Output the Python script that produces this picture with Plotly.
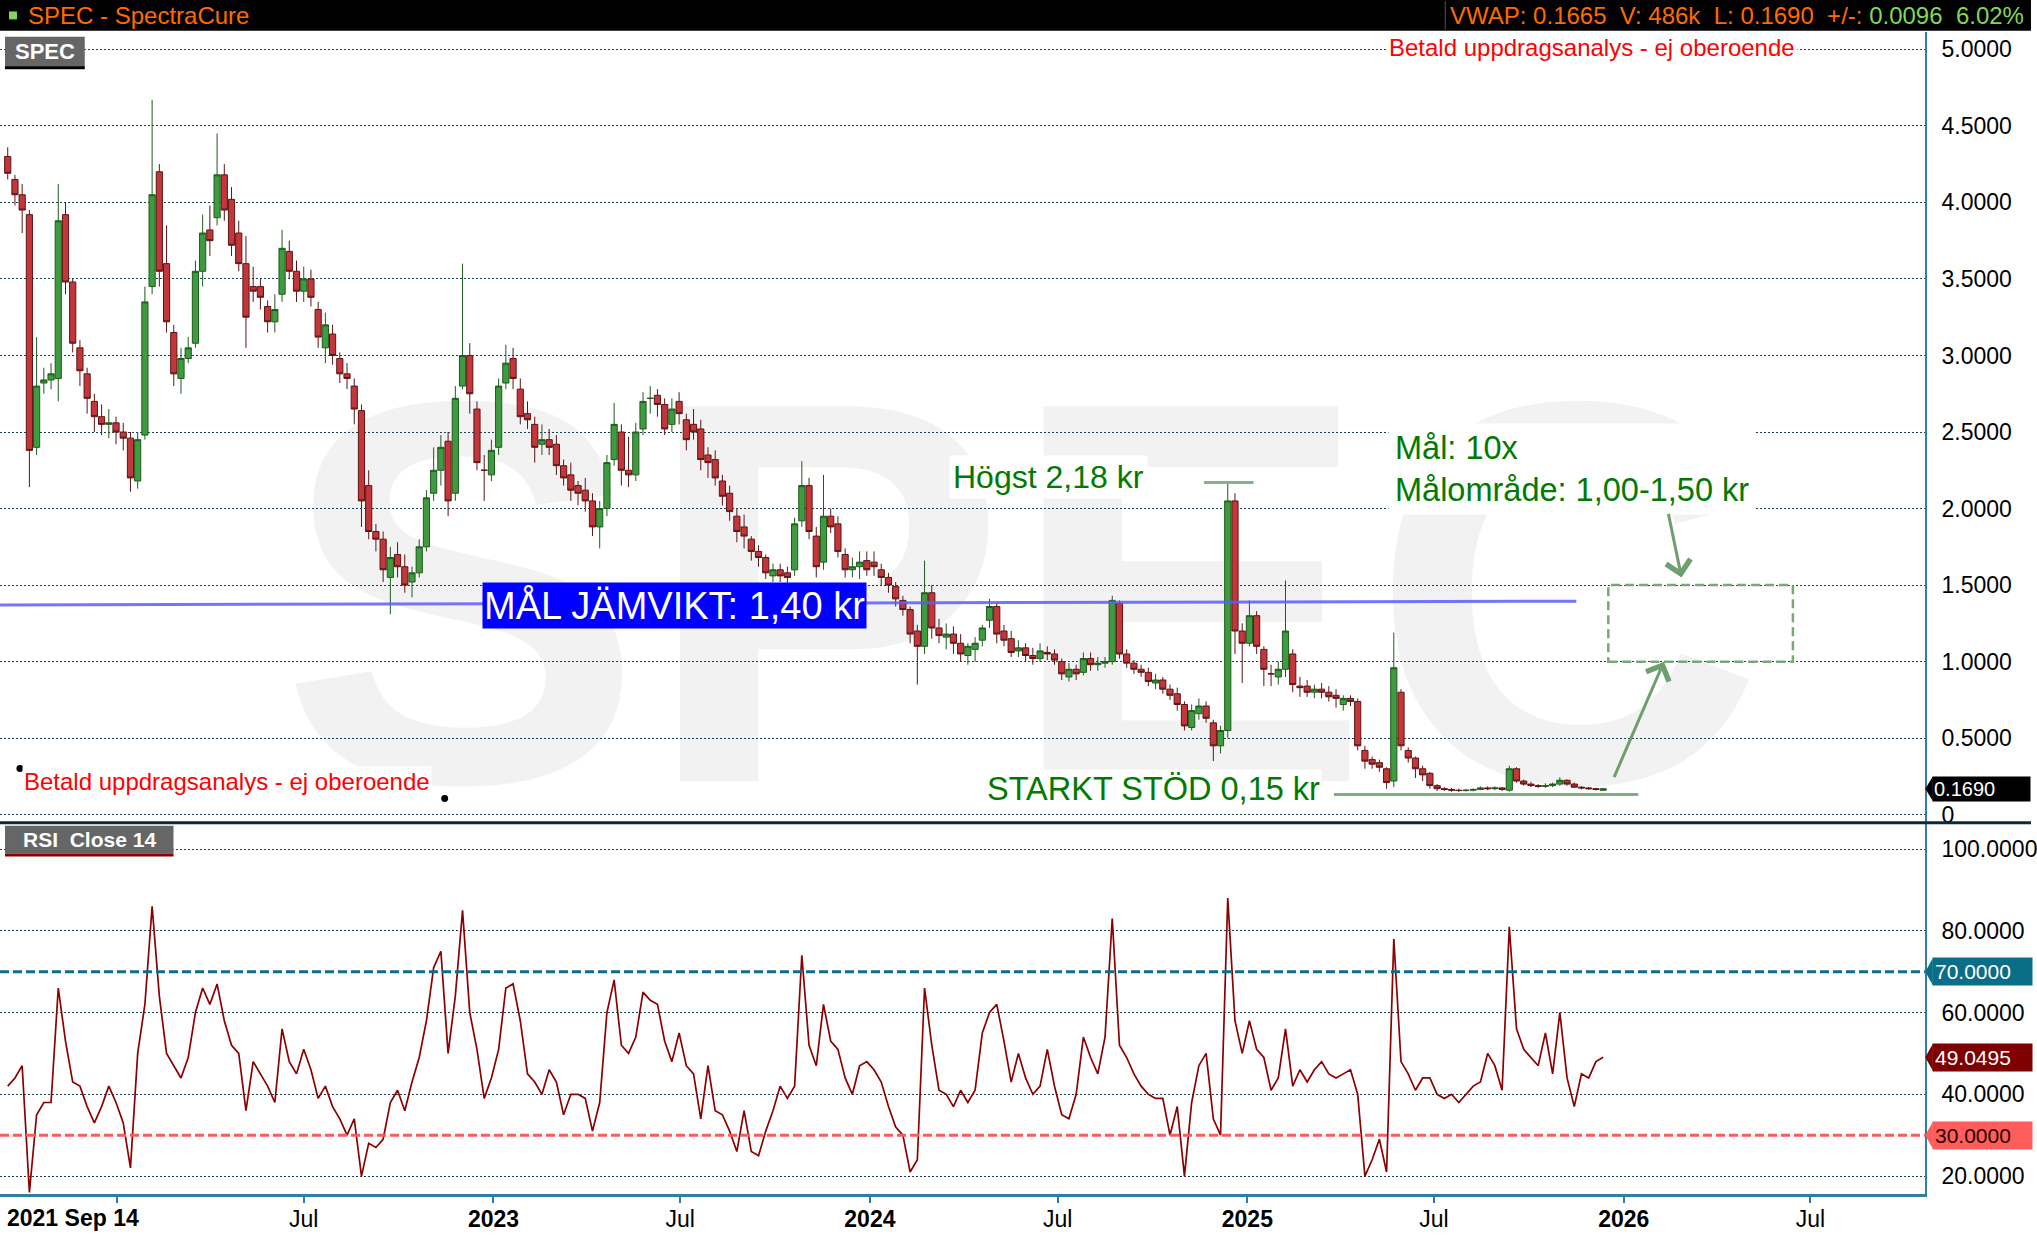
import plotly.graph_objects as go
import pandas as pd

W, H = 2037, 1238

# ---------------- data (weekly) ----------------
week_dates = pd.date_range("2021-09-17", periods=222, freq="7D")

price_open = [
    4.30, 4.15, 4.05, 3.92, 2.40, 2.82, 2.84, 2.85, 3.92, 3.48,
    3.05, 2.88, 2.70, 2.60, 2.55, 2.56, 2.50, 2.46, 2.18, 2.48,
    3.45, 4.20, 3.60, 3.15, 2.85, 2.98, 3.08, 3.55, 3.82, 3.90,
    4.18, 4.02, 3.80, 3.60, 3.45, 3.45, 3.32, 3.22, 3.40, 3.68,
    3.55, 3.42, 3.50, 3.30, 3.05, 3.14, 2.98, 2.88, 2.80, 2.64,
    2.15, 1.85, 1.80, 1.55, 1.70, 1.62, 1.52, 1.58, 1.75, 2.10,
    2.25, 2.44, 2.10, 2.80, 3.00, 2.65, 2.25, 2.22, 2.40, 2.82,
    2.98, 2.78, 2.62, 2.55, 2.42, 2.45, 2.42, 2.28, 2.22, 2.15,
    2.12, 2.05, 1.88, 2.00, 2.32, 2.50, 2.25, 2.22, 2.52, 2.72,
    2.74, 2.68, 2.55, 2.70, 2.58, 2.55, 2.52, 2.35, 2.32, 2.18,
    2.10, 1.95, 1.88, 1.80, 1.72, 1.68, 1.56, 1.60, 1.58, 1.60,
    1.92, 2.15, 1.82, 1.65, 1.95, 1.90, 1.70, 1.60, 1.62, 1.66,
    1.65, 1.60, 1.55, 1.49, 1.40, 1.34, 1.20, 1.10, 1.45, 1.22,
    1.16, 1.18, 1.12, 1.04, 1.08, 1.14, 1.27, 1.36, 1.20, 1.15,
    1.07, 1.09, 1.04, 1.02, 1.06, 1.05, 1.00, 0.90, 0.95, 0.93,
    1.02, 0.98, 0.99, 1.00, 1.38, 1.05, 0.99, 0.95, 0.93, 0.86,
    0.88, 0.82, 0.79, 0.72, 0.57, 0.66, 0.71, 0.60, 0.45, 0.55,
    2.05, 1.20, 1.12, 1.30, 1.08, 0.92, 0.90, 0.95, 1.05, 0.84,
    0.84, 0.80, 0.82, 0.80, 0.78, 0.72, 0.76, 0.74, 0.42, 0.36,
    0.34, 0.30, 0.22, 0.80, 0.42, 0.37, 0.30, 0.27, 0.19, 0.17,
    0.165, 0.16, 0.158, 0.16, 0.165, 0.175, 0.17, 0.175, 0.16, 0.30,
    0.22, 0.20, 0.19, 0.185, 0.19, 0.20, 0.225, 0.20, 0.18, 0.175,
    0.17, 0.16,
]
price_high = [
    4.36, 4.18, 4.12, 3.95, 3.12, 2.92, 2.95, 4.12, 4.00, 3.50,
    3.10, 2.92, 2.75, 2.68, 2.65, 2.60, 2.56, 2.50, 2.50, 3.45,
    4.67, 4.25, 3.85, 3.20, 3.05, 3.12, 3.62, 3.92, 3.98, 4.45,
    4.25, 4.10, 3.88, 3.78, 3.58, 3.50, 3.36, 3.40, 3.82, 3.75,
    3.62, 3.58, 3.56, 3.35, 3.28, 3.20, 3.02, 2.95, 2.85, 2.68,
    2.25, 1.90, 1.85, 1.75, 1.78, 1.70, 1.62, 1.80, 2.12, 2.40,
    2.48, 2.50, 2.80, 3.60, 3.08, 2.70, 2.35, 2.45, 2.85, 3.07,
    3.05, 2.85, 2.70, 2.60, 2.55, 2.52, 2.48, 2.32, 2.30, 2.18,
    2.20, 2.10, 2.05, 2.35, 2.69, 2.55, 2.47, 2.56, 2.76, 2.80,
    2.78, 2.72, 2.72, 2.76, 2.62, 2.65, 2.58, 2.40, 2.38, 2.22,
    2.15, 2.00, 1.96, 1.82, 1.76, 1.70, 1.64, 1.64, 1.62, 1.94,
    2.31, 2.20, 1.88, 2.22, 2.00, 1.95, 1.74, 1.68, 1.72, 1.72,
    1.72, 1.64, 1.58, 1.52, 1.43, 1.36, 1.24, 1.66, 1.50, 1.28,
    1.25, 1.23, 1.18, 1.12, 1.16, 1.24, 1.41, 1.38, 1.24, 1.20,
    1.14, 1.12, 1.09, 1.12, 1.10, 1.08, 1.02, 0.99, 0.98, 1.06,
    1.06, 1.03, 1.03, 1.43, 1.40, 1.08, 1.01, 0.98, 0.96, 0.92,
    0.90, 0.85, 0.83, 0.74, 0.72, 0.76, 0.74, 0.62, 0.58, 2.17,
    2.10, 1.25, 1.40, 1.33, 1.10, 0.98, 1.00, 1.53, 1.08, 0.90,
    0.88, 0.85, 0.86, 0.84, 0.82, 0.78, 0.78, 0.76, 0.45, 0.38,
    0.36, 0.31, 1.19, 0.82, 0.44, 0.38, 0.32, 0.28, 0.20, 0.18,
    0.175, 0.17, 0.168, 0.172, 0.185, 0.185, 0.185, 0.18, 0.32, 0.31,
    0.23, 0.215, 0.20, 0.205, 0.21, 0.245, 0.23, 0.21, 0.185, 0.18,
    0.175, 0.175,
]
price_low = [
    4.15, 3.98, 3.80, 2.14, 2.35, 2.75, 2.78, 2.70, 3.40, 3.02,
    2.80, 2.62, 2.50, 2.48, 2.46, 2.42, 2.38, 2.11, 2.13, 2.45,
    3.40, 3.45, 3.15, 2.80, 2.75, 2.95, 3.05, 3.45, 3.65, 3.85,
    3.88, 3.65, 3.55, 3.05, 3.35, 3.30, 3.15, 3.15, 3.35, 3.50,
    3.35, 3.35, 3.32, 3.05, 2.95, 2.94, 2.82, 2.78, 2.55, 1.88,
    1.80, 1.72, 1.52, 1.31, 1.55, 1.45, 1.42, 1.55, 1.72, 2.05,
    2.15, 1.95, 2.05, 2.78, 2.62, 2.25, 2.05, 2.18, 2.35, 2.78,
    2.78, 2.55, 2.52, 2.30, 2.35, 2.35, 2.22, 2.15, 2.05, 2.02,
    1.98, 1.82, 1.74, 1.95, 2.28, 2.15, 2.14, 2.18, 2.48, 2.62,
    2.60, 2.48, 2.50, 2.55, 2.38, 2.45, 2.25, 2.20, 2.15, 2.02,
    1.92, 1.78, 1.74, 1.66, 1.62, 1.54, 1.52, 1.52, 1.50, 1.56,
    1.88, 1.80, 1.55, 1.60, 1.84, 1.68, 1.55, 1.55, 1.54, 1.56,
    1.56, 1.50, 1.45, 1.36, 1.30, 1.12, 0.85, 1.05, 1.15, 1.12,
    1.08, 1.05, 1.00, 0.98, 1.00, 1.10, 1.22, 1.12, 1.10, 1.03,
    1.03, 1.00, 0.98, 1.00, 1.01, 0.98, 0.88, 0.87, 0.88, 0.91,
    0.94, 0.94, 0.96, 0.98, 1.02, 0.96, 0.92, 0.90, 0.84, 0.82,
    0.79, 0.75, 0.68, 0.55, 0.55, 0.62, 0.60, 0.35, 0.40, 0.50,
    1.05, 0.86, 1.10, 1.05, 0.84, 0.84, 0.85, 0.90, 0.80, 0.77,
    0.77, 0.76, 0.76, 0.74, 0.70, 0.68, 0.71, 0.42, 0.30, 0.30,
    0.28, 0.17, 0.18, 0.42, 0.34, 0.24, 0.22, 0.17, 0.155, 0.155,
    0.15, 0.148, 0.15, 0.152, 0.16, 0.16, 0.16, 0.155, 0.15, 0.21,
    0.19, 0.18, 0.175, 0.175, 0.18, 0.19, 0.19, 0.175, 0.165, 0.162,
    0.158, 0.158,
]
price_close = [
    4.19, 4.05, 3.95, 2.38, 2.80, 2.84, 2.88, 3.88, 3.48, 3.08,
    2.90, 2.72, 2.60, 2.55, 2.56, 2.50, 2.46, 2.20, 2.45, 3.35,
    4.05, 3.55, 3.22, 2.88, 2.98, 3.05, 3.55, 3.80, 3.75, 4.18,
    3.95, 3.72, 3.60, 3.25, 3.42, 3.38, 3.22, 3.30, 3.70, 3.55,
    3.42, 3.50, 3.38, 3.12, 3.20, 3.00, 2.88, 2.85, 2.65, 2.05,
    1.85, 1.80, 1.60, 1.68, 1.62, 1.50, 1.58, 1.75, 2.07, 2.25,
    2.40, 2.05, 2.72, 3.00, 2.75, 2.30, 2.25, 2.38, 2.80, 2.95,
    2.85, 2.60, 2.58, 2.40, 2.45, 2.40, 2.28, 2.20, 2.12, 2.10,
    2.05, 1.88, 2.00, 2.30, 2.55, 2.25, 2.22, 2.50, 2.70, 2.72,
    2.68, 2.52, 2.65, 2.62, 2.45, 2.50, 2.32, 2.30, 2.20, 2.08,
    1.98, 1.85, 1.82, 1.72, 1.68, 1.58, 1.60, 1.56, 1.55, 1.90,
    2.15, 1.85, 1.62, 1.95, 1.88, 1.72, 1.60, 1.62, 1.65, 1.60,
    1.62, 1.55, 1.50, 1.41, 1.34, 1.18, 1.10, 1.45, 1.22, 1.17,
    1.18, 1.12, 1.05, 1.10, 1.12, 1.22, 1.36, 1.18, 1.14, 1.06,
    1.09, 1.04, 1.02, 1.07, 1.05, 1.01, 0.92, 0.95, 0.92, 1.02,
    0.98, 0.99, 1.00, 1.40, 1.05, 0.99, 0.95, 0.93, 0.87, 0.88,
    0.82, 0.78, 0.72, 0.58, 0.68, 0.71, 0.63, 0.45, 0.55, 2.05,
    1.20, 1.12, 1.30, 1.10, 0.95, 0.92, 0.95, 1.20, 0.85, 0.83,
    0.80, 0.82, 0.80, 0.77, 0.76, 0.76, 0.74, 0.45, 0.35, 0.33,
    0.31, 0.21, 0.96, 0.45, 0.37, 0.30, 0.26, 0.19, 0.17, 0.165,
    0.16, 0.158, 0.16, 0.165, 0.175, 0.17, 0.175, 0.165, 0.30, 0.22,
    0.20, 0.19, 0.185, 0.19, 0.20, 0.225, 0.20, 0.18, 0.175, 0.17,
    0.165, 0.169,
]
rsi_14 = [
    42, 44, 47, 16, 35, 38, 38, 66, 53, 43,
    42, 37, 33, 37, 42, 38, 33, 22, 50, 62,
    86, 64, 50, 47, 44, 49, 60, 66, 62, 67,
    58, 52, 50, 36, 48, 45, 42, 38, 56, 48,
    45, 51, 46, 39, 42, 37, 34, 30, 34, 20,
    28, 27, 29, 38, 41, 36, 43, 49, 58, 71,
    75, 50, 64, 85, 60, 51, 39, 44, 51, 66,
    67, 58, 45, 43, 40, 46, 43, 35, 40, 40,
    39, 31, 38, 60, 68, 52, 50, 54, 65, 63,
    62, 53, 48, 55, 47, 45, 34, 47, 36, 35,
    31, 26, 36, 26, 25, 31, 36, 42, 39, 42,
    74, 52, 47, 62, 53, 51, 44, 40, 47, 48,
    46, 43, 37, 32, 30, 21, 24, 66, 52, 41,
    40, 37, 41, 38, 41, 55, 60, 62, 53, 43,
    50, 44, 40, 42, 51, 42, 35, 34, 40, 54,
    49, 45, 54, 83, 52, 49, 45, 42, 40, 39,
    39, 30, 37, 20, 38, 47, 50, 34, 30, 88,
    58, 50, 58, 51, 49, 41, 44, 56, 42, 46,
    43, 46, 48, 45, 44, 45, 46, 40, 20, 24,
    29, 21, 78, 48, 45, 41, 44, 44, 40, 39,
    40, 38, 40, 42, 43, 50, 47, 41, 81, 56,
    51, 49, 47, 55, 45, 60, 44, 37, 45, 44,
    48, 49.05,
]
for arr in (price_open, price_high, price_low, price_close, rsi_14):
    assert len(arr) == len(week_dates), len(arr)

price_ticks = [0, 0.5, 1.0, 1.5, 2.0, 2.5, 3.0, 3.5, 4.0, 4.5, 5.0]
price_tick_text = ["0"] + [f"{v:.4f}" for v in price_ticks[1:]]
rsi_ticks = [20, 40, 60, 80, 100]
rsi_tick_text = [f"{v:.4f}" for v in rsi_ticks]
x_tick_dates = ["2022-01-01", "2022-07-01", "2023-01-01", "2023-07-01", "2024-01-01",
                "2024-07-01", "2025-01-01", "2025-07-01", "2026-01-01", "2026-07-01"]
x_tick_text = ["", "Jul", "<b>2023</b>", "Jul", "<b>2024</b>", "Jul", "<b>2025</b>",
               "Jul", "<b>2026</b>", "Jul"]

last_price = 0.1690
last_rsi = 49.0495
target_equilibrium = (1.37, 1.395)      # blue line level (start, end)
high_level = 2.17                        # "Högst" marker
support_level = 0.132                    # STARKT STÖD line
target_zone = (1.0, 1.5)                 # Målområde box

X_START, X_END = "2021-09-09 12:00", "2026-10-20"

# ---------------- helpers (pixel -> paper) ----------------
def pxx(x):
    return x / W


def pyy(y):
    return 1 - y / H


PLOT_R = 1930.6 / W
FONT = "Liberation Sans, Arial, sans-serif"
AXIS_BLUE = "#2f7fa0"
GRID = "#1b4252"
GREEN_TXT = "#007a00"
SOFT_GREEN = "#6f9f6f"

fig = go.Figure()

fig.add_trace(go.Candlestick(
    x=week_dates, open=price_open, high=price_high, low=price_low, close=price_close,
    increasing=dict(line=dict(color="#1f5a1f", width=1), fillcolor="#3f9b3f"),
    decreasing=dict(line=dict(color="#5e1414", width=1), fillcolor="#c1373b"),
    whiskerwidth=0, xaxis="x", yaxis="y", showlegend=False, hoverinfo="skip",
))
fig.add_trace(go.Scatter(
    x=week_dates, y=rsi_14, mode="lines", line=dict(color="#8b0000", width=1.7),
    xaxis="x2", yaxis="y2", showlegend=False, hoverinfo="skip",
))

shapes = []
# header bar
shapes.append(dict(type="rect", xref="paper", yref="paper", x0=0, x1=1, y0=pyy(31), y1=1,
                   fillcolor="black", line=dict(width=0), layer="above"))
shapes.append(dict(type="rect", xref="paper", yref="paper", x0=pxx(9), x1=pxx(17),
                   y0=pyy(19.5), y1=pyy(11.5), fillcolor="#7ed957", line=dict(width=0), layer="above"))
shapes.append(dict(type="line", xref="paper", yref="paper", x0=pxx(1449.5), x1=pxx(1449.5),
                   y0=pyy(30), y1=pyy(1), line=dict(color="#555555", width=1), layer="above"))
# watermark
shapes.append(dict(type="rect", xref="paper", yref="paper", x0=pxx(305), x1=pxx(1745),
                   y0=pyy(750), y1=pyy(335), line=dict(width=0), fillcolor="rgba(0,0,0,0)",
                   layer="below",
                   label=dict(text="SPEC", textposition="middle center",
                              font=dict(size=545, color="#f2f2f2", family=FONT, weight="bold"))))
# panel separator
shapes.append(dict(type="line", xref="paper", yref="paper", x0=0, x1=1, y0=pyy(826), y1=pyy(826),
                   line=dict(color="#0b2a3c", width=3), layer="above"))
# equilibrium line
shapes.append(dict(type="line", xref="x", yref="y", x0=X_START, x1="2025-11-16",
                   y0=target_equilibrium[0], y1=target_equilibrium[1],
                   line=dict(color="#5c5cff", width=3), opacity=0.85, layer="above"))
# high marker
shapes.append(dict(type="line", xref="x", yref="y", x0="2024-11-20", x1="2025-01-07",
                   y0=high_level, y1=high_level, line=dict(color="#86b386", width=3), layer="above"))
# support line
shapes.append(dict(type="line", xref="x", yref="y", x0="2025-03-26", x1="2026-01-15",
                   y0=support_level, y1=support_level, line=dict(color="#7fae7f", width=3), layer="above"))
# target zone
shapes.append(dict(type="rect", xref="x", yref="y", x0="2025-12-17", x1="2026-06-14",
                   y0=target_zone[0], y1=target_zone[1],
                   line=dict(color="#78a878", width=2.5, dash="9px,5px"), layer="above"))
# RSI 70 / 30 lines
shapes.append(dict(type="line", xref="x2 domain", yref="y2", x0=0, x1=1, y0=70, y1=70,
                   line=dict(color="#0a6f8a", width=3, dash="9px,4px"), layer="above"))
shapes.append(dict(type="line", xref="x2 domain", yref="y2", x0=0, x1=1, y0=30, y1=30,
                   line=dict(color="#ff5a5a", width=3, dash="9px,4px"), layer="above"))
# label boxes
shapes.append(dict(type="rect", xref="paper", yref="paper", x0=pxx(5), x1=pxx(85),
                   y0=pyy(67), y1=pyy(37), fillcolor="#666666", line=dict(width=0), layer="above"))
shapes.append(dict(type="line", xref="paper", yref="paper", x0=pxx(5), x1=pxx(85),
                   y0=pyy(68), y1=pyy(68), line=dict(color="black", width=3), layer="above"))
shapes.append(dict(type="rect", xref="paper", yref="paper", x0=pxx(5), x1=pxx(174),
                   y0=pyy(857), y1=pyy(829), fillcolor="#666666", line=dict(width=0), layer="above"))
shapes.append(dict(type="line", xref="paper", yref="paper", x0=pxx(5), x1=pxx(174),
                   y0=pyy(858.5), y1=pyy(858.5), line=dict(color="#8b0000", width=3), layer="above"))
# anchor dots of the bottom-left note
for cx, cy in ((20, 771.7), (446, 801.7)):
    shapes.append(dict(type="circle", xref="paper", yref="paper", x0=pxx(cx - 3.5), x1=pxx(cx + 3.5),
                       y0=pyy(cy + 3.5), y1=pyy(cy - 3.5), fillcolor="black", line=dict(width=0),
                       layer="above"))
# pointed tips of the value tags
tag_specs = [("y", last_price, 0.08, "black"), ("y2", 70, 3.3, "#0b6e88"),
             ("y2", 30, 3.3, "#ff5c5c"), ("y2", last_rsi, 3.3, "#7e0000")]
for yref, val, half, col in tag_specs:
    shapes.append(dict(type="path", xref="paper", yref=yref,
                       path=(f"M {pxx(1938.5)},{val - half} L {pxx(1931)},{val} "
                             f"L {pxx(1938.5)},{val + half} Z"),
                       fillcolor=col, line=dict(width=0), layer="above"))

ann = []
ann.append(dict(xref="paper", yref="paper", x=pxx(26), y=pyy(15.5), xanchor="left", yanchor="middle",
                text="SPEC - SpectraCure", showarrow=False, font=dict(size=24, color="#ff6a00")))
ann.append(dict(xref="paper", yref="paper", x=pxx(2032), y=pyy(15.5), xanchor="right", yanchor="middle",
                text=("<span style='color:#ff6a00'>VWAP: 0.1665&nbsp;&nbsp;V: 486k&nbsp;&nbsp;L: 0.1690"
                      "&nbsp;&nbsp;+/-: </span><span style='color:#7ed957'>0.0096&nbsp;&nbsp;6.02%</span>"),
                showarrow=False, font=dict(size=24)))
ann.append(dict(xref="paper", yref="paper", x=pxx(45), y=pyy(52), xanchor="center", yanchor="middle",
                text="<b>SPEC</b>", showarrow=False, font=dict(size=22, color="white")))
ann.append(dict(xref="paper", yref="paper", x=pxx(89.5), y=pyy(843), xanchor="center", yanchor="middle",
                text="<b>RSI&nbsp;&nbsp;Close 14</b>", showarrow=False, font=dict(size=21, color="white")))
ann.append(dict(xref="paper", yref="paper", x=pxx(1390), y=pyy(48), xanchor="left", yanchor="middle",
                text="Betald uppdragsanalys - ej oberoende", showarrow=False, bgcolor="white",
                borderpad=2, font=dict(size=24, color="#ff0000")))
ann.append(dict(xref="paper", yref="paper", x=pxx(22), y=pyy(785), xanchor="left", yanchor="middle",
                text="Betald uppdragsanalys - ej oberoende", showarrow=False, bgcolor="white",
                borderpad=1, font=dict(size=24, color="#ff0000")))
ann.append(dict(xref="paper", yref="paper", x=pxx(483), y=pyy(607.5), xanchor="left", yanchor="middle",
                text="MÅL JÄMVIKT: 1,40 kr", showarrow=False, bgcolor="#0000ff", borderpad=1,
                font=dict(size=38, color="white")))
ann.append(dict(xref="paper", yref="paper", x=pxx(952), y=pyy(479), xanchor="left", yanchor="middle",
                text="Högst 2,18 kr", showarrow=False, bgcolor="white", borderpad=3,
                font=dict(size=32, color=GREEN_TXT)))
ann.append(dict(xref="paper", yref="paper", x=pxx(1392), y=pyy(471), xanchor="left", yanchor="middle",
                text="Mål: 10x<br>Målområde: 1,00-1,50 kr", align="left", showarrow=False,
                bgcolor="white", borderpad=6, font=dict(size=32.5, color=GREEN_TXT)))
ann.append(dict(xref="paper", yref="paper", x=pxx(988), y=pyy(792), xanchor="left", yanchor="middle",
                text="STARKT STÖD 0,15 kr", showarrow=False, bgcolor="white", borderpad=1,
                font=dict(size=32.5, color=GREEN_TXT)))
ann.append(dict(xref="paper", yref="paper", x=pxx(5), y=pyy(1223), xanchor="left", yanchor="middle",
                text="<b>2021 Sep 14</b>", showarrow=False, font=dict(size=23, color="black")))
# arrows
ann.append(dict(xref="x", yref="y", axref="x", ayref="y", x="2026-02-26", y=1.55,
                ax="2026-02-13", ay=1.975, text="", showarrow=True, arrowhead=4, arrowsize=1.6,
                arrowwidth=3, arrowcolor=SOFT_GREEN))
ann.append(dict(xref="x", yref="y", axref="x", ayref="y", x="2026-02-09", y=1.0,
                ax="2025-12-22", ay=0.236, text="", showarrow=True, arrowhead=4, arrowsize=1.6,
                arrowwidth=3, arrowcolor=SOFT_GREEN))
# value tags on the right axis
ann.append(dict(xref="paper", yref="y", x=pxx(1938), y=last_price, xanchor="left", yanchor="middle",
                text=f"{last_price:.4f}", showarrow=False, bgcolor="black", width=95, align="left",
                borderpad=1, font=dict(size=20, color="white")))
ann.append(dict(xref="paper", yref="y2", x=pxx(1938), y=70, xanchor="left", yanchor="middle",
                text="70.0000", showarrow=False, bgcolor="#0b6e88", width=95, align="left",
                borderpad=2, font=dict(size=21, color="white")))
ann.append(dict(xref="paper", yref="y2", x=pxx(1938), y=30, xanchor="left", yanchor="middle",
                text="30.0000", showarrow=False, bgcolor="#ff5c5c", width=95, align="left",
                borderpad=2, font=dict(size=21, color="#2a0000")))
ann.append(dict(xref="paper", yref="y2", x=pxx(1938), y=last_rsi, xanchor="left", yanchor="middle",
                text=f"{last_rsi:.4f}", showarrow=False, bgcolor="#7e0000", width=95, align="left",
                borderpad=2, font=dict(size=21, color="white")))

fig.update_layout(
    width=W, height=H, margin=dict(l=0, r=0, t=0, b=0),
    paper_bgcolor="white", plot_bgcolor="white",
    font=dict(family=FONT, color="black"),
    showlegend=False, shapes=shapes, annotations=ann,
    boxgap=0.1, boxgroupgap=0.05,
    xaxis=dict(domain=[0, PLOT_R], anchor="y", type="date", range=[X_START, X_END],
               showticklabels=False, showgrid=False, zeroline=False, matches="x2",
               rangeslider=dict(visible=False), fixedrange=True),
    yaxis=dict(domain=[pyy(826), pyy(32)], anchor="x", side="right", range=[-0.052, 5.114],
               tickmode="array", tickvals=price_ticks, ticktext=price_tick_text,
               showgrid=True, gridcolor=GRID, griddash="2px,2px", gridwidth=1,
               showline=True, linecolor=AXIS_BLUE, linewidth=2, ticks="",
               ticklabelstandoff=10, tickfont=dict(size=23, color="black"), zeroline=False),
    xaxis2=dict(domain=[0, PLOT_R], anchor="y2", type="date", range=[X_START, X_END],
                tickmode="array", tickvals=x_tick_dates, ticktext=x_tick_text,
                ticks="outside", ticklen=6, tickwidth=2, tickcolor=AXIS_BLUE,
                showline=True, linecolor=AXIS_BLUE, linewidth=3, showgrid=False, zeroline=False,
                ticklabelstandoff=-3, tickfont=dict(size=23, color="black")),
    yaxis2=dict(domain=[pyy(1198.5), pyy(827)], anchor="x2", side="right", range=[15.7, 106.2],
                tickmode="array", tickvals=rsi_ticks, ticktext=rsi_tick_text,
                showgrid=True, gridcolor=GRID, griddash="2px,2px", gridwidth=1,
                showline=True, linecolor=AXIS_BLUE, linewidth=2, ticks="",
                ticklabelstandoff=10, tickfont=dict(size=23, color="black"), zeroline=False),
)

fig.write_html("out.html", config={"displayModeBar": False},
               post_script="document.body.style.margin='0px';document.body.style.overflow='hidden';")
